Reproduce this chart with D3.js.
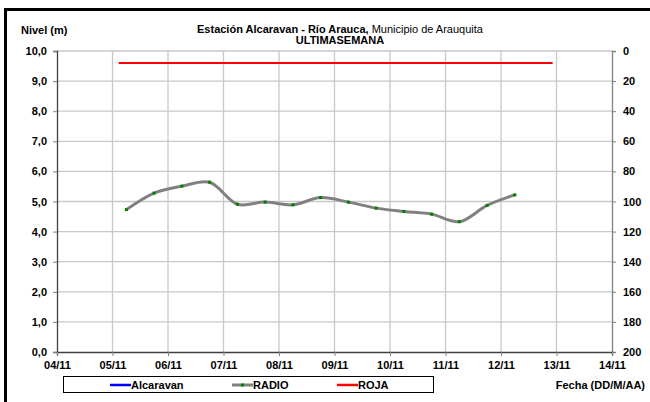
<!DOCTYPE html>
<html lang="es">
<head>
<meta charset="utf-8">
<script src="https://d3js.org/d3.v7.min.js"></script>
<style>
    body { margin: 0; background: #fff; font-family: "Liberation Sans", Arial, sans-serif; }
    text { font-family: "Liberation Sans", Arial, sans-serif; }
    .tick text { font-size: 11px; font-weight: bold; fill: #000; }
    .lbl { font-size: 11px; font-weight: bold; }
</style>
</head>
<body>
<div id="chart"></div>
<script>
var width = 650;
var height = 402;

// lecturas RADIO cada 12 horas
var fechas = ["2015-11-05 06:00", "2015-11-05 18:00", "2015-11-06 06:00", "2015-11-06 18:00",
    "2015-11-07 06:00", "2015-11-07 18:00", "2015-11-08 06:00", "2015-11-08 18:00",
    "2015-11-09 06:00", "2015-11-09 18:00", "2015-11-10 06:00", "2015-11-10 18:00",
    "2015-11-11 06:00", "2015-11-11 18:00", "2015-11-12 06:00"];
var radio = [4.73, 5.28, 5.51, 5.64, 4.91, 4.98, 4.89, 5.13, 4.98, 4.78, 4.67, 4.58, 4.33, 4.87, 5.22];

// nivel de alerta roja
var rojaFechas = ["2015-11-05 02:40", "2015-11-12 22:20"];
var rojaNivel = 9.6;

var xDominio = ["2015-11-04 00:00", "2015-11-14 00:00"];
var yTicks = [0, 1, 2, 3, 4, 5, 6, 7, 8, 9, 10];
var y2Ticks = [0, 20, 40, 60, 80, 100, 120, 140, 160, 180, 200];
var leyenda = ["Alcaravan", "RADIO", "ROJA"];
var leyendaColores = ["#0000ff", "#808080", "#ff0000"];

var parse = d3.timeParse("%Y-%m-%d %H:%M");
var margin = {top: 51, right: 38, bottom: 50, left: 57};
var w = width - margin.left - margin.right;   // 555
var h = height - margin.top - margin.bottom;  // 301

var svg = d3.select("#chart").append("svg")
    .attr("width", width)
    .attr("height", height);

// marco negro
svg.append("rect").attr("x", 4).attr("y", 8).attr("width", 3).attr("height", height - 8).attr("fill", "#000");
svg.append("rect").attr("x", 4).attr("y", 8).attr("width", width - 4).attr("height", 3).attr("fill", "#000");

var x = d3.scaleTime().domain(xDominio.map(parse)).range([0, w]);
var y = d3.scaleLinear().domain([0, 10]).range([h, 0]);
var y2 = d3.scaleLinear().domain([0, 200]).range([0, h]);

var g = svg.append("g").attr("transform", "translate(" + margin.left + "," + margin.top + ")");

var dias = d3.timeDay.range(parse(xDominio[0]), d3.timeDay.offset(parse(xDominio[1]), 1));

// rejilla
g.append("g").selectAll("line").data(yTicks.slice(1)).enter().append("line")
    .attr("x1", 0).attr("x2", w)
    .attr("y1", d => y(d)).attr("y2", d => y(d))
    .attr("stroke", "#c8c8c8").attr("stroke-width", 1.3);
g.append("g").selectAll("line").data(dias.slice(1, -1)).enter().append("line")
    .attr("x1", d => x(d)).attr("x2", d => x(d))
    .attr("y1", 0).attr("y2", h)
    .attr("stroke", "#c8c8c8").attr("stroke-width", 1.3);

// ejes
var ejeY = g.append("g")
    .call(d3.axisLeft(y).tickValues(yTicks).tickSize(4).tickFormat(d => d3.format(".1f")(d).replace(".", ",")));
var ejeY2 = g.append("g").attr("transform", "translate(" + w + ",0)")
    .call(d3.axisRight(y2).tickValues(y2Ticks).tickSize(4).tickPadding(7));
var ejeX = g.append("g").attr("transform", "translate(0," + h + ")")
    .call(d3.axisBottom(x).tickValues(dias.slice(0, 11)).tickSize(4).tickPadding(5).tickFormat(d3.timeFormat("%d/%m")));
[ejeY, ejeY2, ejeX].forEach(function(a) {
    a.selectAll("path").attr("stroke", "#808080").attr("stroke-width", 1.3);
    a.selectAll(".tick line").attr("stroke", "#808080");
});
ejeX.select("path").attr("stroke", "#404040");
ejeY.select("path").attr("stroke", "#404040");
ejeY.selectAll(".tick text").attr("dx", -3);

// linea roja
var rojaDatos = rojaFechas.map(f => ({fecha: parse(f), valor: rojaNivel}));
g.append("path").datum(rojaDatos)
    .attr("fill", "none").attr("stroke", "#ff0000").attr("stroke-width", 2)
    .attr("d", d3.line().x(d => x(d.fecha)).y(d => y(d.valor)));

// serie RADIO
var datos = fechas.map((f, i) => ({fecha: parse(f), valor: radio[i]}));
g.append("path").datum(datos)
    .attr("fill", "none").attr("stroke", "#808080").attr("stroke-width", 3)
    .attr("d", d3.line().curve(d3.curveCatmullRom.alpha(0.5)).x(d => x(d.fecha)).y(d => y(d.valor)));
g.append("g").selectAll("rect").data(datos).enter().append("rect")
    .attr("x", d => x(d.fecha) - 1.5).attr("y", d => y(d.valor) - 1.5)
    .attr("width", 3).attr("height", 3).attr("fill", "#008000");

// titulos
var titulo = svg.append("text").attr("x", 340).attr("y", 33).attr("text-anchor", "middle")
    .attr("font-size", "11px");
titulo.append("tspan").attr("font-weight", "bold").text("Estación Alcaravan - Río Arauca,");
titulo.append("tspan").text(" Municipio de Arauquita");
svg.append("text").attr("class", "lbl").attr("x", 340).attr("y", 44).attr("text-anchor", "middle")
    .text("ULTIMASEMANA");
svg.append("text").attr("class", "lbl").attr("x", 21).attr("y", 34).text("Nivel (m)");
svg.append("text").attr("class", "lbl").attr("x", 645).attr("y", 389).attr("text-anchor", "end")
    .text("Fecha (DD/M/AA)");

// leyenda
var leg = svg.append("g");
leg.append("rect").attr("x", 63.5).attr("y", 376.5).attr("width", 370).attr("height", 16)
    .attr("fill", "#fff").attr("stroke", "#000").attr("stroke-width", 1);
var itemX = [110, 232, 337];
leyenda.forEach(function(nombre, i) {
    leg.append("line").attr("x1", itemX[i]).attr("x2", itemX[i] + 21)
        .attr("y1", 385).attr("y2", 385)
        .attr("stroke", leyendaColores[i]).attr("stroke-width", i == 1 ? 3 : 2.5);
    if (i == 1) {
        leg.append("rect").attr("x", itemX[i] + 9).attr("y", 383.5).attr("width", 3).attr("height", 3).attr("fill", "#008000");
    }
    leg.append("text").attr("class", "lbl").attr("x", itemX[i] + 21).attr("y", 389).text(nombre);
});
</script>
</body>
</html>
